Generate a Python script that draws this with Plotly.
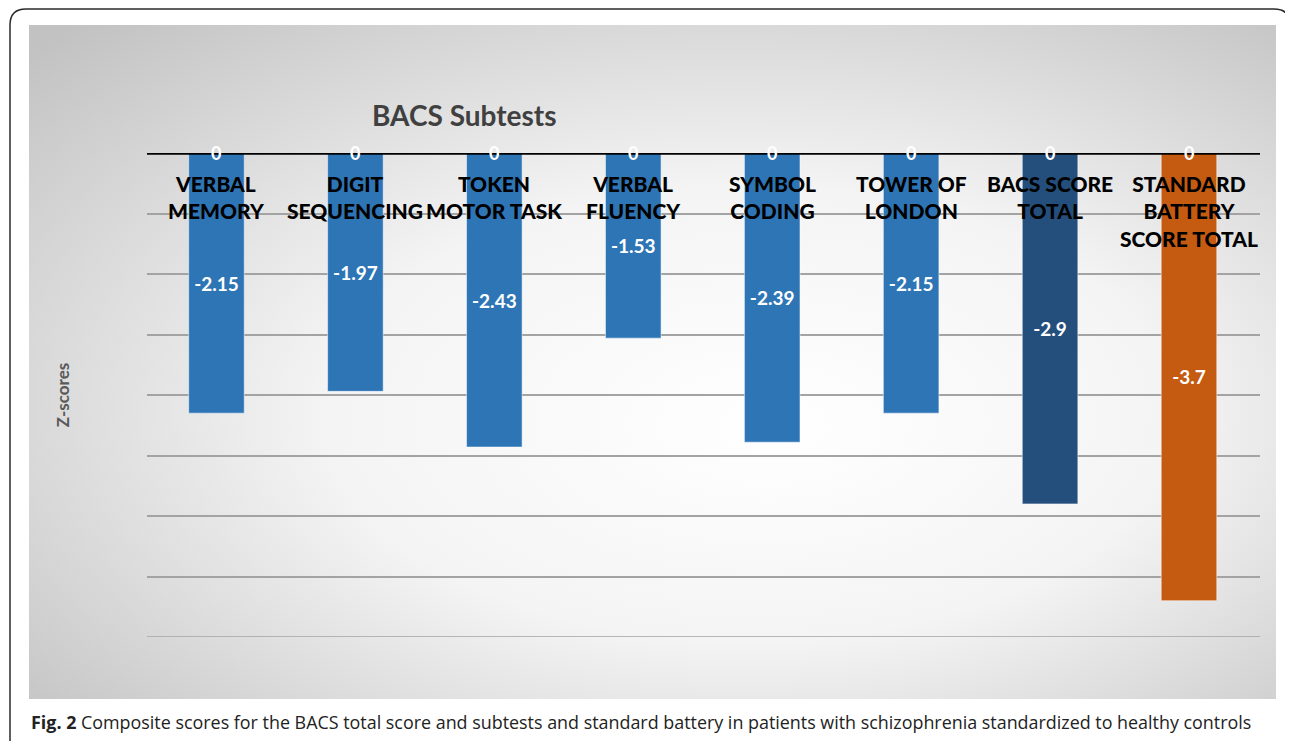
import base64
import plotly.graph_objects as go

# ---- data ----
categories = ["VERBAL<br>MEMORY", "DIGIT<br>SEQUENCING", "TOKEN<br>MOTOR TASK", "VERBAL<br>FLUENCY",
              "SYMBOL<br>CODING", "TOWER OF<br>LONDON", "BACS SCORE<br>TOTAL",
              "STANDARD<br>BATTERY<br>SCORE TOTAL"]
z_scores = [-2.15, -1.97, -2.43, -1.53, -2.39, -2.15, -2.9, -3.7]
zero_labels = [0, 0, 0, 0, 0, 0, 0, 0]
bar_colors = ["#2E75B6"] * 6 + ["#244F7D", "#C55A11"]
y_ticks = [0, -0.5, -1, -1.5, -2, -2.5, -3, -3.5, -4]

OFF = 8  # page body margin
W, H = 1293 - OFF, 741 - OFF
L, R, T, B = 147 - OFF, 1260 - OFF, 153 - OFF, 637 - OFF  # plot area in pixels


def px(x):
    return (x - OFF - L) / (R - L)


def py(y):
    return (B - (y - OFF)) / (B - T)


fig = go.Figure()

fig.add_trace(go.Bar(
    x=categories, y=z_scores,
    marker=dict(color=bar_colors, line=dict(color="rgba(255,255,255,0.5)", width=1)),
    text=[str(v) for v in z_scores],
    textposition="inside", insidetextanchor="middle", textangle=0,
    textfont=dict(family="Lato, Open Sans, sans-serif", size=19, color="white", weight="bold"),
    width=0.4, showlegend=False, hoverinfo="x+y",
))

# "0" labels at the top of each bar (drawn above the zero line)
for c, z in zip(categories, zero_labels):
    fig.add_annotation(
        x=c, y=z, xref="x", yref="y", text=str(z), showarrow=False,
        xanchor="center", yanchor="middle",
        font=dict(family="Lato, Open Sans, sans-serif", size=18, color="white", weight="bold"),
    )

# category labels below the zero line
for c in categories:
    fig.add_annotation(
        x=c, y=0, xref="x", yref="y", text=c, showarrow=False,
        yanchor="top", yshift=-16,
        font=dict(family="Lato, Open Sans, sans-serif", size=21, color="black", weight=900),
    )

# bottom gridline (at the range edge)
fig.add_shape(type="line", xref="paper", yref="y", x0=0, x1=1, y0=y_ticks[-1], y1=y_ticks[-1],
              line=dict(color="#a3a3a3", width=1.5), layer="below")

# zero line
fig.add_shape(type="line", xref="paper", yref="y", x0=0, x1=1, y0=0, y1=0,
              line=dict(color="black", width=3.5), layer="above")

# gradient background
svg = ('<svg xmlns="http://www.w3.org/2000/svg" width="1247" height="674">'
       '<defs><radialGradient id="g" cx="0.55" cy="0.55" r="0.75" fx="0.6" fy="0.6">'
       '<stop offset="0" stop-color="#ffffff"/><stop offset="0.45" stop-color="#f4f4f4"/>'
       '<stop offset="1" stop-color="#c2c2c2"/></radialGradient></defs>'
       '<rect width="1247" height="674" fill="url(#g)"/></svg>')
src = "data:image/svg+xml;base64," + base64.b64encode(svg.encode()).decode()
fig.add_layout_image(dict(
    source=src, xref="paper", yref="paper", x=px(29), y=py(25),
    sizex=(1276 - 29) / (R - L), sizey=(699 - 25) / (B - T),
    xanchor="left", yanchor="top", sizing="stretch", layer="below",
))

# rounded outer border
x0, y0, x1, y1, r = 10, 9, 1290, 780, 16
path = (f"M {px(x0)},{py(y1)} L {px(x0)},{py(y0 + r)} Q {px(x0)},{py(y0)} {px(x0 + r)},{py(y0)} "
        f"L {px(x1 - r)},{py(y0)} Q {px(x1)},{py(y0)} {px(x1)},{py(y0 + r)} L {px(x1)},{py(y1)}")
fig.add_shape(type="path", xref="paper", yref="paper", path=path,
              line=dict(color="#2b2b2b", width=1.5))

# title
fig.add_annotation(
    x=px(464), y=py(115), xref="paper", yref="paper", text="<b>BACS Subtests</b>",
    showarrow=False, xanchor="center", yanchor="middle",
    font=dict(family="Lato, Open Sans, sans-serif", size=28, color="#404040"),
)

# caption
fig.add_annotation(
    x=px(29), y=py(722), xref="paper", yref="paper",
    text="<b>Fig. 2</b> Composite scores for the BACS total score and subtests and standard battery "
         "in patients with schizophrenia standardized to healthy controls",
    showarrow=False, xanchor="left", yanchor="middle",
    font=dict(family="Open Sans, sans-serif", size=17.9, color="#222222"),
)

fig.update_layout(
    width=W, height=H,
    margin=dict(l=L, r=W - R, t=T, b=H - B, pad=0),
    paper_bgcolor="white", plot_bgcolor="rgba(0,0,0,0)",
    bargap=0.6,
    xaxis=dict(showticklabels=False, showgrid=False, zeroline=False, showline=False,
               fixedrange=True),
    yaxis=dict(range=[-4, 0], tickvals=y_ticks, showticklabels=False,
               showgrid=True, gridcolor="#a3a3a3", gridwidth=1.5, zeroline=False,
               title=dict(text="<b>Z-scores</b>", standoff=72,
                          font=dict(family="Lato, Open Sans, sans-serif", size=17, color="#595959"))),
    showlegend=False,
)

fig.write_html("out.html")
